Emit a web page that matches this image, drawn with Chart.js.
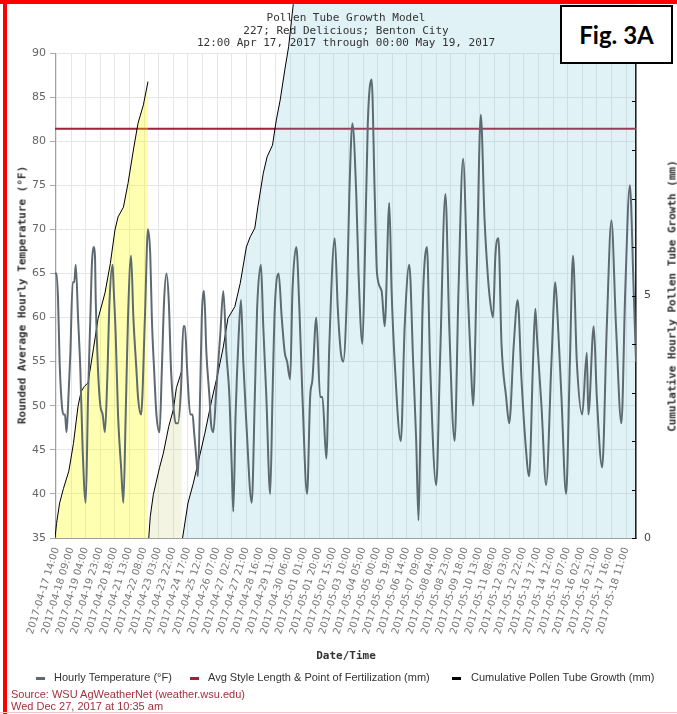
<!DOCTYPE html>
<html>
<head>
<meta charset="utf-8">
<script src="https://cdn.jsdelivr.net/npm/chart.js@4/dist/chart.umd.min.js"></script>
<style>
  html, body { margin: 0; padding: 0; background: #fff; }
  #wrap { position: relative; width: 677px; height: 714px; overflow: hidden; background: #fff; }
  #c { position: absolute; left: 0; top: 0; }
  .txt { position: absolute; white-space: nowrap; }
  .mono { font-family: "DejaVu Sans Mono", monospace; font-size: 11px; color: #333; }
  #title { left: 96px; width: 500px; top: 12px; text-align: center; line-height: 12.5px; }
  .vt { font-weight: bold; transform: translate(-50%, -50%) rotate(-90deg); }
  #xTitle { left: 346px; top: 655px; font-weight: bold; transform: translate(-50%, -50%); }
  .lg { font-family: "Liberation Sans", Arial, sans-serif; font-size: 11px; color: #333; top: 671px; }
  .mk { position: absolute; top: 677px; width: 9px; height: 3px; }
  .foot { font-family: "Liberation Sans", Arial, sans-serif; font-size: 11px; color: #a3303c; left: 11px; }
  #fig { position: absolute; left: 560px; top: 5px; width: 109px; height: 55px; border: 2px solid #000; background: #fff;
         font-family: Lato, "Open Sans", sans-serif; font-weight: 700; font-size: 24px; color: #000;
         display: flex; align-items: center; justify-content: center; }
  .red { position: absolute; background: #ff0000; }
</style>
</head>
<body>
<div id="wrap">
  <canvas id="c" width="677" height="714"></canvas>

  <div id="title" class="txt mono">Pollen Tube Growth Model<br>227; Red Delicious; Benton City<br>12:00 Apr 17, 2017 through 00:00 May 19, 2017</div>
  <div class="txt mono vt" style="left:22px; top:295px;">Rounded Average Hourly Temperature (°F)</div>
  <div class="txt mono vt" style="left:672px; top:296px;">Cumulative Hourly Pollen Tube Growth (mm)</div>
  <div id="xTitle" class="txt mono">Date/Time</div>

  <span class="mk" style="left:36px; background:#5e6a72;"></span>
  <div class="txt lg" style="left:54px;">Hourly Temperature (°F)</div>
  <span class="mk" style="left:190px; background:#a3203a;"></span>
  <div class="txt lg" style="left:208px;">Avg Style Length &amp; Point of Fertilization (mm)</div>
  <span class="mk" style="left:452px; background:#000;"></span>
  <div class="txt lg" style="left:471px;">Cumulative Pollen Tube Growth (mm)</div>

  <div class="txt foot" style="top:688px;">Source: WSU AgWeatherNet (weather.wsu.edu)</div>
  <div class="txt foot" style="top:700px;">Wed Dec 27, 2017 at 10:35 am</div>

  <div id="fig">Fig. 3A</div>

  <div class="red" style="left:0; top:0; width:677px; height:4px;"></div>
  <div class="red" style="left:3px; top:0; width:4px; height:714px;"></div>
  <div class="red" style="left:0; top:712px; width:677px; height:1px; background:#f6c4c4;"></div>
</div>

<script>
// Bottom axis labels (every 19 hours)
const tickLabels = [
  '2017-04-17 14:00', '2017-04-18 09:00', '2017-04-19 04:00', '2017-04-19 23:00',
  '2017-04-20 18:00', '2017-04-21 13:00', '2017-04-22 08:00', '2017-04-23 03:00',
  '2017-04-23 22:00', '2017-04-24 17:00', '2017-04-25 12:00', '2017-04-26 07:00',
  '2017-04-27 02:00', '2017-04-27 21:00', '2017-04-28 16:00', '2017-04-29 11:00',
  '2017-04-30 06:00', '2017-05-01 01:00', '2017-05-01 20:00', '2017-05-02 15:00',
  '2017-05-03 10:00', '2017-05-04 05:00', '2017-05-05 00:00', '2017-05-05 19:00',
  '2017-05-06 14:00', '2017-05-07 09:00', '2017-05-08 04:00', '2017-05-08 23:00',
  '2017-05-09 18:00', '2017-05-10 13:00', '2017-05-11 08:00', '2017-05-12 03:00',
  '2017-05-12 22:00', '2017-05-13 17:00', '2017-05-14 12:00', '2017-05-15 07:00',
  '2017-05-16 02:00', '2017-05-16 21:00', '2017-05-17 16:00', '2017-05-18 11:00'
];
const periodStart = '2017-04-17 12:00';
const periodEnd = '2017-05-19 00:00';

// Rounded hourly temperature (°F), hours counted from the period start
const tempHour = [
  0, 2, 4, 6, 9, 11, 13, 15, 17, 20, 23, 25, 27, 30, 33, 36, 40, 43, 46, 48,
  50, 52, 53, 56, 59, 62, 65, 68, 71, 75, 76, 79, 82, 86, 89, 92, 95, 99, 102, 106,
  108, 112, 117, 121, 124, 126, 129, 132, 136, 139, 142, 145, 148, 151, 154, 157, 160, 164, 167, 169,
  172, 176, 179, 181, 184, 186, 189, 191, 194, 197, 201, 203, 206, 210, 215, 219, 223, 227, 230, 232,
  235, 239, 242, 245, 249, 256, 260, 263, 268, 271, 275, 280, 283, 286, 291, 295, 299, 302, 306, 309,
  314, 318, 322, 328, 332, 335, 340, 345, 348, 353, 357, 364, 368, 372, 375, 380, 383, 387, 392, 395,
  400, 403, 407, 412, 416, 419, 425, 429, 435, 438, 442, 450, 455, 461, 466, 470, 473, 475, 478, 484,
  488, 496, 501, 508, 513, 520, 525, 531, 537, 541, 544, 549, 554, 559, 563, 566, 570, 573, 577, 581,
  587, 591, 597, 602, 607, 612, 617, 622, 625, 627, 633, 639, 646, 651, 654, 659, 665, 670, 674, 679,
  686, 692, 694, 701, 705, 712, 718, 724, 730, 737, 742, 748, 753, 756
];
const tempF = [
  65, 65, 62, 55, 50, 49, 49, 47, 50, 56, 64, 64, 66, 60, 54, 45, 39, 51, 60, 66,
  68, 67, 62, 54, 50, 49, 47, 53, 62, 66, 64, 58, 49, 43, 39, 49, 60, 67, 60, 54,
  51, 49, 60, 70, 67, 60, 54, 49, 47, 54, 62, 65, 62, 54, 50, 48, 48, 52, 59, 59,
  54, 49, 49, 47, 44, 42, 52, 60, 63, 56, 51, 48, 47, 52, 58, 63, 56, 51, 43, 38,
  49, 58, 62, 55, 48, 39, 51, 61, 66, 59, 51, 40, 51, 61, 65, 60, 56, 55, 53, 63,
  68, 61, 51, 40, 51, 53, 60, 51, 51, 44, 57, 69, 61, 56, 55, 63, 74, 82, 74, 65,
  57, 66, 82, 87, 74, 65, 63, 59, 73, 63, 55, 46, 59, 66, 55, 46, 37, 45, 60, 68,
  55, 41, 55, 74, 59, 46, 63, 78, 63, 55, 50, 66, 83, 71, 65, 62, 60, 67, 69, 57,
  51, 48, 57, 62, 53, 46, 42, 55, 61, 58, 50, 41, 55, 64, 60, 51, 40, 55, 67, 55,
  49, 56, 49, 59, 51, 43, 59, 71, 59, 48, 63, 75, 63, 55
];

// Average style length (mm)
const styleLength = 8.44;

// Cumulative pollen tube growth (mm), one run per bloom cohort
const growthHour1 = [0, 2, 6, 11, 18, 24, 30, 34, 38, 43, 50, 56, 65, 72, 78, 82, 89, 95, 102, 108, 115, 121];
const growth1 = [0, 0.3, 0.72, 1.02, 1.38, 1.95, 2.72, 3.02, 3.12, 3.2, 3.9, 4.52, 5.05, 5.66, 6.35, 6.62, 6.82, 7.31, 8.0, 8.55, 8.93, 9.41];
const growthHour2 = [122, 124, 128, 136, 141, 148, 154, 158, 165];
const growth2 = [0, 0.45, 0.9, 1.45, 1.75, 2.3, 2.65, 3.1, 3.45];
const growthHour3 = [166, 173, 180, 186, 195, 204, 212, 219, 225, 234, 241, 249, 254, 260, 264, 271, 276, 283, 288, 293, 299, 304, 310, 330, 400, 500, 600, 756];
const growth3 = [0, 0.72, 1.13, 1.54, 2.16, 2.85, 3.4, 3.94, 4.53, 4.77, 5.25, 6.0, 6.21, 6.39, 6.83, 7.52, 7.86, 8.1, 8.62, 9.03, 9.65, 10.13, 11.0, 13, 18, 22, 26, 31];

// ---- helpers ----
function toMs(label) {
  const [d, t] = label.split(' ');
  const [Y, M, D] = d.split('-').map(Number);
  const [h, m] = t.split(':').map(Number);
  return Date.UTC(Y, M - 1, D, h, m);
}
const startMs = toMs(periodStart);
const hourOf = label => (toMs(label) - startMs) / 3600000;
const totalHours = hourOf(periodEnd);
const tickHours = tickLabels.map(hourOf);
const labelAt = {};
tickHours.forEach((h, i) => { labelAt[h] = tickLabels[i]; });
const pts = (xs, ys) => xs.map((x, i) => ({ x: x, y: ys[i] }));

// Fill of the growth curve where it runs above the plot top
const overflowFill = {
  id: 'overflowFill',
  beforeDatasetDraw(chart, args) {
    const ds = chart.data.datasets[args.index];
    if (!ds.overflowFill) return;
    const p = args.meta.data;
    const a = chart.chartArea;
    const ctx = chart.ctx;
    ctx.save();
    ctx.beginPath();
    ctx.rect(a.left, 0, a.right - a.left, a.top);
    ctx.clip();
    ctx.beginPath();
    ctx.moveTo(p[0].x, a.top);
    p.forEach(e => ctx.lineTo(e.x, e.y));
    ctx.lineTo(p[p.length - 1].x, a.top);
    ctx.closePath();
    ctx.fillStyle = ds.backgroundColor;
    ctx.fill();
    ctx.restore();
  }
};

// Inward tick marks on the right-hand axis
const innerTicks = {
  id: 'innerTicks',
  afterDraw(chart) {
    const s = chart.scales.y2;
    const ctx = chart.ctx;
    ctx.save();
    ctx.strokeStyle = '#000';
    ctx.lineWidth = 1;
    s.ticks.forEach(t => {
      const y = Math.round(s.getPixelForValue(t.value)) + 0.5;
      ctx.beginPath();
      ctx.moveTo(s.left - 4, y);
      ctx.lineTo(s.left, y);
      ctx.stroke();
    });
    ctx.restore();
  }
};

const growthLine = { borderColor: '#000', borderWidth: 1, pointRadius: 0, tension: 0, yAxisID: 'y2', fill: 'origin' };

new Chart(document.getElementById('c'), {
  type: 'line',
  data: {
    datasets: [
      {
        label: 'Hourly Temperature (°F)', data: pts(tempHour, tempF), yAxisID: 'y',
        borderColor: '#5e6a72', borderWidth: 2, pointRadius: 0,
        cubicInterpolationMode: 'monotone', order: 0
      },
      Object.assign({ label: 'Cumulative Pollen Tube Growth (mm)', data: pts(growthHour1, growth1),
        backgroundColor: 'rgba(255,255,0,0.3)', order: 3 }, growthLine),
      Object.assign({ label: 'Cumulative Pollen Tube Growth (mm)', data: pts(growthHour2, growth2),
        backgroundColor: 'rgba(200,200,110,0.2)', order: 4 }, growthLine),
      Object.assign({ label: 'Cumulative Pollen Tube Growth (mm)', data: pts(growthHour3, growth3),
        backgroundColor: 'rgba(100,190,210,0.2)', order: 5, clip: false, overflowFill: true }, growthLine),
      {
        label: 'Avg Style Length & Point of Fertilization (mm)',
        data: [{ x: 0, y: styleLength }, { x: totalHours, y: styleLength }], yAxisID: 'y2',
        borderColor: '#a3203a', borderWidth: 2, pointRadius: 0, order: 10
      }
    ]
  },
  options: {
    responsive: false,
    animation: false,
    events: [],
    layout: { padding: { top: 53, left: 0, right: 0, bottom: 0 } },
    plugins: { legend: { display: false }, title: { display: false }, tooltip: { enabled: false } },
    scales: {
      x: {
        type: 'linear', min: 0, max: totalHours,
        afterBuildTicks: s => { s.ticks = tickHours.map(v => ({ value: v })); },
        afterFit: s => { s.height = 176; },
        ticks: {
          autoSkip: false, minRotation: 73, maxRotation: 73, padding: 8,
          color: '#777', font: { family: 'DejaVu Sans', size: 10 },
          callback: v => labelAt[v]
        },
        grid: { color: '#e6e6e6', drawTicks: false },
        border: { color: '#a0a0a0' }
      },
      y: {
        position: 'left', min: 35, max: 90,
        afterFit: s => { s.width = 55; },
        ticks: { stepSize: 5, padding: 4, color: '#666', font: { family: 'DejaVu Sans', size: 11 } },
        grid: { color: '#e6e6e6', tickColor: '#aaa', tickLength: 5 },
        border: { color: '#a0a0a0' }
      },
      y2: {
        position: 'right', min: 0, max: 10,
        afterFit: s => { s.width = 41; },
        ticks: {
          stepSize: 1, padding: 8, color: '#444', font: { family: 'DejaVu Sans', size: 11 },
          callback: v => (v === 0 || v === 5) ? String(v) : ''
        },
        grid: { drawOnChartArea: false, drawTicks: false },
        border: { color: '#000', width: 1.5 }
      }
    }
  },
  plugins: [overflowFill, innerTicks]
});
</script>
</body>
</html>
